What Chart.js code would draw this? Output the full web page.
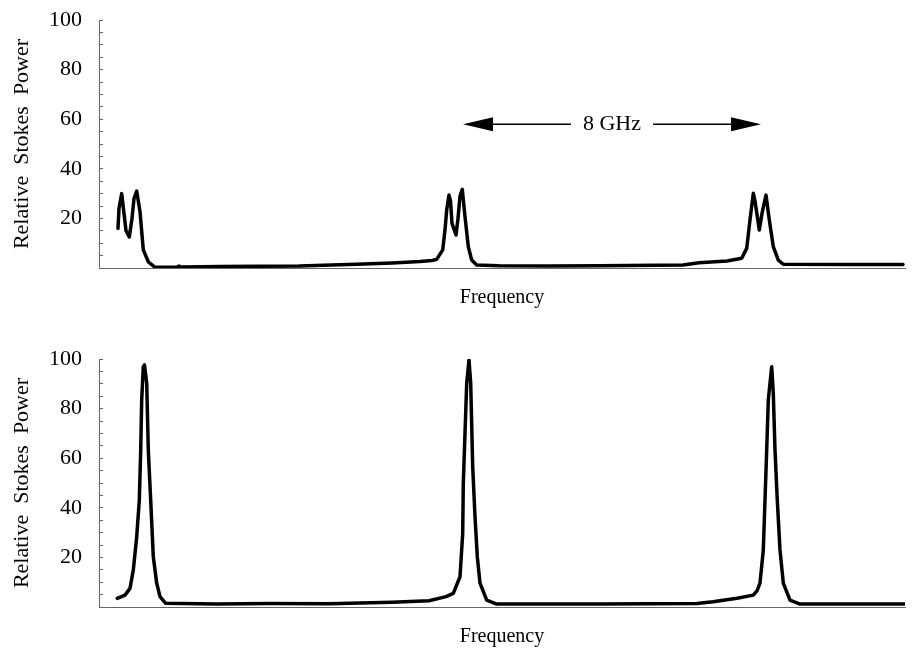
<!DOCTYPE html>
<html>
<head>
<meta charset="utf-8">
<script src="https://cdn.jsdelivr.net/npm/chart.js@4.4.0/dist/chart.umd.min.js"></script>
<style>
  body { margin: 0; background: #fff; }
  canvas { position: absolute; left: 0; }
  #topPlot { top: 0; }
  #bottomPlot { top: 339px; }
</style>
</head>
<body>
<canvas id="topPlot" width="914" height="310"></canvas>
<canvas id="bottomPlot" width="914" height="310"></canvas>
<script>
// frequency in arbitrary bins (0..806), power in relative units
const topFreq = [19, 20, 22.7, 25, 27, 30.3, 33, 35, 37.7, 41, 44.3, 49.3, 56, 78, 80, 82, 122, 160, 200, 257,
                 293, 321, 333, 337.7, 343.7, 346, 347.7, 350, 351.5, 353, 357, 359, 361, 363.3, 366, 369.3, 372.7, 377.7, 400, 450,
                 500, 584, 600, 628, 642.7, 647.7, 651, 654.3, 656, 660.3, 663, 667, 670.3, 674.3, 679.3, 684.3, 750, 804];
const topPower = [16, 24, 30, 22, 15, 12.5, 20, 28, 31, 22.7, 7.3, 2.5, 0.3, 0.4, 0.8, 0.4, 0.6, 0.7, 0.8, 1.5,
                  2, 2.6, 3.0, 3.5, 7.3, 15.3, 23.4, 29.4, 27, 18, 13.3, 20, 29, 31.7, 20.7, 8.6, 3.2, 1.2, 0.9, 0.8,
                  0.9, 1.2, 2.1, 2.8, 3.9, 7.9, 19.4, 30.1, 27, 15.3, 22, 29.4, 19.4, 8.6, 3.2, 1.5, 1.4, 1.4];

const bottomFreq = [18.3, 26, 31, 34.3, 37.7, 40.3, 41.7, 42.7, 44.3, 45.5, 47.7, 49.3, 51.7, 54.3, 57.7, 61, 66.7, 117, 170, 230,
                    293, 330, 347, 354.3, 361, 363.7, 364.3, 366, 367.7, 370, 371.7, 373.7, 376, 378.3, 381, 387.7, 397.7, 500, 598, 614,
                    638, 654.3, 658, 661, 664.3, 666, 667.7, 669.3, 672.7, 674.3, 676, 678.3, 681, 684.3, 691, 701, 806];
const bottomPower = [3.5, 4.8, 7.5, 14.9, 28.3, 43, 63.3, 83.5, 96.9, 97.6, 90.2, 63.3, 43, 20.3, 9.6, 4.2, 1.5, 1.2, 1.4, 1.3,
                     1.9, 2.5, 4.2, 5.5, 12.2, 29.7, 49.9, 70, 90.2, 99.6, 90.2, 56.6, 36.4, 20.3, 9.6, 2.8, 1.2, 1.2, 1.4, 2.1,
                     3.5, 4.8, 6.5, 9.6, 23, 43, 63.3, 83.5, 96.9, 86.1, 63.3, 43, 23, 9.6, 2.8, 1.2, 1.2];

const freqRange = [0, 806];
const powerRange = [0, 100];
const labelledTicks = [20, 40, 60, 80, 100];

// spacing arrow in the top plot
const arrowFrom = 364;
const arrowTo = 662;
const arrowLevel = 58;
const arrowLabelAt = 513;
const arrowLabel = '8 GHz';

const serif = '"Liberation Serif", "Times New Roman", serif';
const axisGray = '#666';

const arrowPlugin = {
  id: 'spacingArrow',
  afterDatasetsDraw(chart) {
    const ctx = chart.ctx;
    const xs = chart.scales.x, ys = chart.scales.y;
    const x0 = xs.getPixelForValue(arrowFrom);
    const x1 = xs.getPixelForValue(arrowTo);
    const xm = xs.getPixelForValue(arrowLabelAt);
    const yy = ys.getPixelForValue(arrowLevel);
    const headLen = 30, headHalf = 7;
    ctx.save();
    ctx.font = '22px ' + serif;
    const gap = ctx.measureText(arrowLabel).width / 2 + 12;
    ctx.strokeStyle = '#000';
    ctx.lineWidth = 1.5;
    ctx.beginPath();
    ctx.moveTo(x0 + headLen, yy); ctx.lineTo(xm - gap, yy);
    ctx.moveTo(xm + gap, yy); ctx.lineTo(x1 - headLen, yy);
    ctx.stroke();
    ctx.fillStyle = '#000';
    ctx.beginPath();
    ctx.moveTo(x0, yy); ctx.lineTo(x0 + headLen, yy - headHalf); ctx.lineTo(x0 + headLen, yy + headHalf);
    ctx.closePath(); ctx.fill();
    ctx.beginPath();
    ctx.moveTo(x1, yy); ctx.lineTo(x1 - headLen, yy - headHalf); ctx.lineTo(x1 - headLen, yy + headHalf);
    ctx.closePath(); ctx.fill();
    ctx.textAlign = 'center';
    ctx.textBaseline = 'middle';
    ctx.fillText(arrowLabel, xm, yy);
    ctx.restore();
  }
};

function makePlot(id, freq, power, extraPlugins) {
  const points = freq.map((f, i) => ({ x: f, y: power[i] }));
  return new Chart(document.getElementById(id), {
    type: 'line',
    data: {
      datasets: [{
        data: points,
        borderColor: '#000',
        borderWidth: 3.5,
        borderJoinStyle: 'round',
        borderCapStyle: 'round',
        pointRadius: 0,
        tension: 0,
        fill: false
      }]
    },
    options: {
      responsive: false,
      animation: false,
      layout: { padding: { left: 0, right: 9, top: 20, bottom: 0 } },
      plugins: { legend: { display: false }, tooltip: { enabled: false } },
      scales: {
        x: {
          type: 'linear',
          min: freqRange[0],
          max: freqRange[1],
          border: { color: axisGray, width: 1 },
          grid: { display: false },
          ticks: { display: false },
          title: {
            display: true,
            text: 'Frequency',
            color: '#000',
            font: { family: serif, size: 20 },
            padding: { top: 0, bottom: 0 }
          },
          afterFit: s => { s.height = 42; }
        },
        y: {
          min: powerRange[0],
          max: powerRange[1],
          border: { color: axisGray, width: 1 },
          grid: { drawOnChartArea: false, drawTicks: true, tickLength: -4, color: axisGray },
          ticks: {
            stepSize: 5,
            autoSkip: false,
            padding: 21,
            color: '#000',
            font: { family: serif, size: 22 },
            callback: v => labelledTicks.includes(v) ? String(v) : ''
          },
          title: {
            display: true,
            text: 'Relative  Stokes  Power',
            color: '#000',
            font: { family: serif, size: 22 },
            padding: { top: 9, bottom: 0 }
          },
          afterFit: s => {
            s.width = 99;
            // label overhang is allowed to sit in the layout padding
            s.paddingTop = 0;
            s.paddingBottom = 0;
          }
        }
      }
    },
    plugins: extraPlugins
  });
}

makePlot('topPlot', topFreq, topPower, [arrowPlugin]);
makePlot('bottomPlot', bottomFreq, bottomPower, []);
</script>
</body>
</html>
